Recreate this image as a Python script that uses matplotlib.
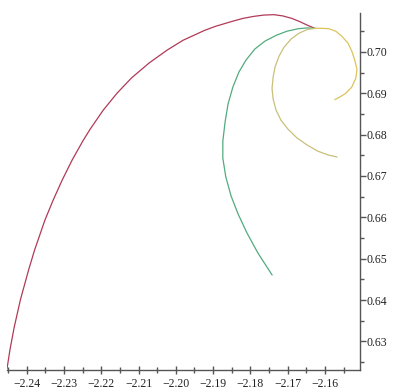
import numpy as np
import matplotlib
matplotlib.use("Agg")
import matplotlib.pyplot as plt
from matplotlib.ticker import MultipleLocator, FuncFormatter

# trajectories sharing the common point near (-2.1627, 0.7057)
red_x = [-2.2453, -2.2445, -2.2434, -2.2417, -2.2395, -2.2379, -2.2351, -2.2329,
         -2.2305, -2.2278, -2.2248, -2.2230, -2.2195, -2.2158, -2.2119, -2.2072,
         -2.2024, -2.1981, -2.1923, -2.1893, -2.1852, -2.1820, -2.1790, -2.1764,
         -2.1737, -2.1713, -2.1689, -2.1667, -2.1646, -2.1627]
red_y = [0.6234, 0.6280, 0.6333, 0.6401, 0.6473, 0.6521, 0.6594, 0.6642,
         0.6690, 0.6739, 0.6787, 0.6813, 0.6859, 0.6900, 0.6937, 0.6973,
         0.7004, 0.7028, 0.7052, 0.7062, 0.7073, 0.7081, 0.7086, 0.7089,
         0.7090, 0.7087, 0.7081, 0.7073, 0.7064, 0.7057]

green_x = [-2.1627, -2.1648, -2.1672, -2.1702, -2.1731, -2.1761, -2.1788,
           -2.1812, -2.1831, -2.1847, -2.1860, -2.1868, -2.1874, -2.1874,
           -2.1866, -2.1852, -2.1833, -2.1809, -2.1780, -2.1742]
green_y = [0.7057, 0.7058, 0.7056, 0.7050, 0.7040, 0.7026, 0.7007,
           0.6980, 0.6951, 0.6915, 0.6874, 0.6830, 0.6784, 0.6743,
           0.6698, 0.6652, 0.6608, 0.6562, 0.6514, 0.6461]

loop_x = [-2.1627, -2.1608, -2.1589, -2.1571, -2.1555, -2.1538, -2.1528,
          -2.1520, -2.1514, -2.1517, -2.1528, -2.1544, -2.1560, -2.1573]
loop_y = [0.7057, 0.7057, 0.7056, 0.7050, 0.7038, 0.7021, 0.7002,
          0.6980, 0.6958, 0.6937, 0.6915, 0.6900, 0.6891, 0.6885]

khaki_x = [-2.1627, -2.1648, -2.1670, -2.1691, -2.1710, -2.1723, -2.1734,
           -2.1739, -2.1742, -2.1739, -2.1731, -2.1718, -2.1699, -2.1675,
           -2.1648, -2.1619, -2.1592, -2.1568]
khaki_y = [0.7057, 0.7054, 0.7045, 0.7031, 0.7011, 0.6990, 0.6963,
           0.6939, 0.6912, 0.6886, 0.6859, 0.6835, 0.6813, 0.6792,
           0.6775, 0.6760, 0.6751, 0.6746]

x_min, x_max = -2.2453, -2.1506
y_min, y_max = 0.6231, 0.7094

fig = plt.figure(figsize=(3.93, 3.92), dpi=100)
ax = fig.add_axes([0.0178, 0.0561, 0.8982, 0.9107])

ax.plot(red_x, red_y, color="#b03a58", lw=0.9)
ax.plot(green_x, green_y, color="#52ab7e", lw=0.9)
ax.plot(khaki_x, khaki_y, color="#c9c07a", lw=0.9)
ax.plot(loop_x, loop_y, color="#dcc35a", lw=0.9)

ax.set_xlim(x_min, x_max)
ax.set_ylim(y_min, y_max)

for side in ("top", "left"):
    ax.spines[side].set_visible(False)
for side in ("bottom", "right"):
    ax.spines[side].set_color("#555555")
    ax.spines[side].set_linewidth(1.0)

ax.yaxis.tick_right()
ax.xaxis.set_major_locator(MultipleLocator(0.01))
ax.xaxis.set_minor_locator(MultipleLocator(0.005))
ax.yaxis.set_major_locator(MultipleLocator(0.01))
ax.yaxis.set_minor_locator(MultipleLocator(0.005))
ax.xaxis.set_major_formatter(FuncFormatter(lambda v, p: f"{v:.2f}".replace("-", "\u2212")))
ax.yaxis.set_major_formatter(FuncFormatter(lambda v, p: f"{v:.2f}"))

ax.tick_params(axis="x", which="major", direction="inout", length=6, width=1,
               color="#555555", labelsize=8.5, pad=3)
ax.tick_params(axis="x", which="minor", direction="inout", length=4, width=1,
               color="#555555")
ax.tick_params(axis="y", which="major", direction="out", length=4, width=1,
               color="#555555", labelsize=8.5, pad=1)
ax.tick_params(axis="y", which="minor", direction="out", length=3, width=1,
               color="#555555")
for lab in ax.get_xticklabels() + ax.get_yticklabels():
    lab.set_fontfamily("Liberation Serif")
    lab.set_color("#222222")

fig.savefig("out.png", dpi=100, facecolor="white")
